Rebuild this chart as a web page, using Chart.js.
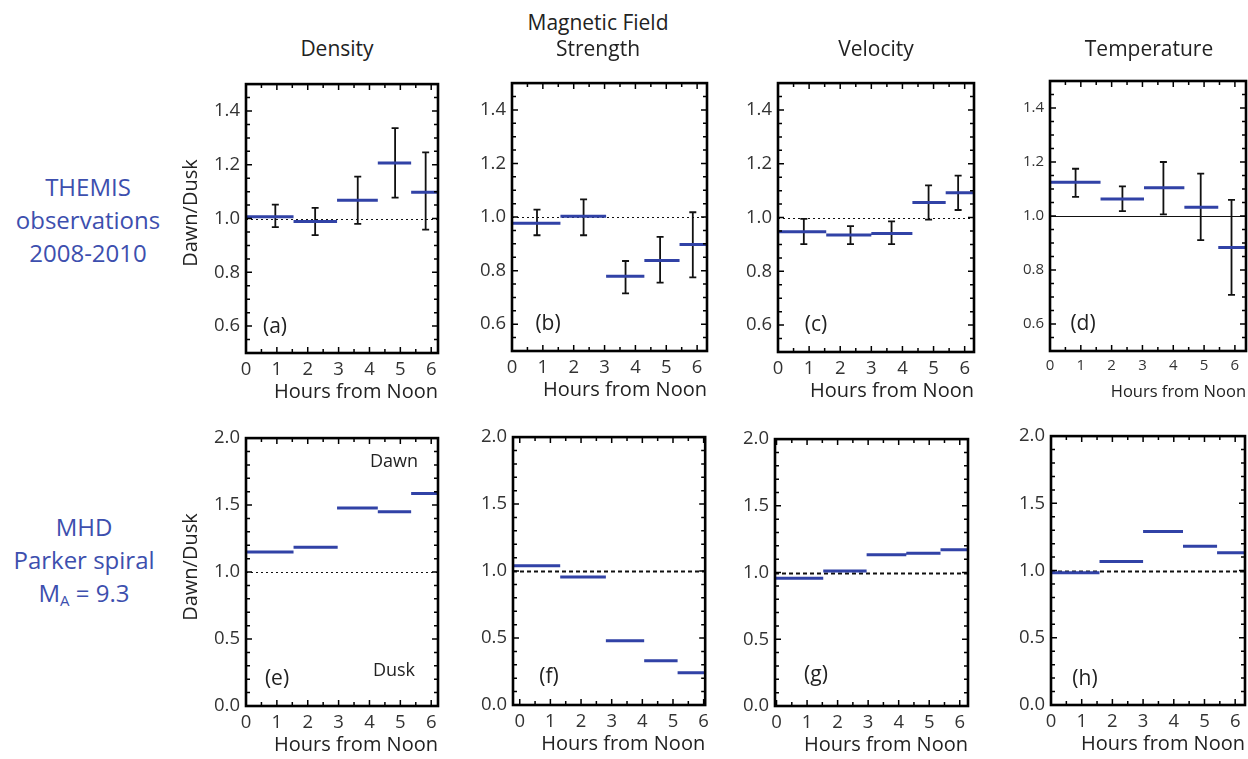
<!DOCTYPE html>
<html><head><meta charset="utf-8">
<script src="https://cdn.jsdelivr.net/npm/chart.js@4.4.1/dist/chart.umd.min.js"></script>
<style>
html,body{margin:0;padding:0;overflow:hidden;background:#fff}
body{width:1248px;height:759px;position:relative;font-family:"Open Sans",sans-serif}
canvas{position:absolute}
.t{position:absolute;white-space:nowrap;transform:translate(-50%,-50%);color:#222;line-height:1}
.row{position:absolute;white-space:nowrap;transform:translate(-50%,0);color:#3d4fae;font-size:24px;line-height:33px;text-align:center}
.yt{position:absolute;white-space:nowrap;transform:translate(-50%,-50%) rotate(-90deg);color:#222;font-size:20px;line-height:1}
</style></head><body>
<script>
// ---------- shared tick labels ----------
const xTickLabels = [0, 1, 2, 3, 4, 5, 6];
const yTicksTop = [0.6, 0.8, 1.0, 1.2, 1.4];
const yTicksBottom = [0.0, 0.5, 1.0, 1.5, 2.0];
const refValue = 1.0;

// ---------- THEMIS observations (top row) ----------
// (a) Density
const aLo = [0, 1.54, 2.95, 4.27, 5.35];
const aHi = [1.54, 2.95, 4.27, 5.35, 6.22];
const aVal = [1.007, 0.989, 1.068, 1.207, 1.098];
const aErrX = [0.95, 2.24, 3.62, 4.83, 5.82];
const aErrLo = [0.968, 0.938, 0.980, 1.078, 0.959];
const aErrHi = [1.052, 1.040, 1.156, 1.336, 1.246];
// (b) Magnetic field strength
const bLo = [0, 1.57, 3.05, 4.29, 5.43];
const bHi = [1.57, 3.05, 4.29, 5.43, 6.32];
const bVal = [0.977, 1.003, 0.779, 0.838, 0.898];
const bErrX = [0.81, 2.32, 3.68, 4.80, 5.86];
const bErrLo = [0.932, 0.932, 0.715, 0.755, 0.775];
const bErrHi = [1.028, 1.066, 0.836, 0.926, 1.018];
// (c) Velocity
const cLo = [0, 1.55, 3.00, 4.32, 5.39];
const cHi = [1.55, 3.00, 4.32, 5.39, 6.30];
const cVal = [0.947, 0.935, 0.941, 1.056, 1.092];
const cErrX = [0.83, 2.33, 3.65, 4.84, 5.79];
const cErrLo = [0.901, 0.901, 0.901, 0.992, 1.028];
const cErrHi = [0.995, 0.968, 0.986, 1.120, 1.156];
// (d) Temperature
const dLo = [0, 1.64, 3.05, 4.36, 5.46];
const dHi = [1.64, 3.05, 4.36, 5.46, 6.36];
const dVal = [1.125, 1.063, 1.105, 1.032, 0.883];
const dErrX = [0.83, 2.35, 3.68, 4.89, 5.89];
const dErrLo = [1.071, 1.018, 1.006, 0.911, 0.708];
const dErrHi = [1.175, 1.110, 1.200, 1.157, 1.060];

// ---------- MHD Parker spiral (bottom row) ----------
const eLo = [0, 1.54, 2.95, 4.27, 5.35];
const eHi = [1.54, 2.97, 4.27, 5.35, 6.22];
const eVal = [1.150, 1.186, 1.478, 1.450, 1.587];
const fLo = [-0.22, 1.32, 2.81, 4.06, 5.15];
const fHi = [1.32, 2.81, 4.06, 5.15, 6.05];
const fVal = [1.040, 0.956, 0.480, 0.330, 0.240];
const gLo = [-0.05, 1.53, 2.95, 4.25, 5.37];
const gHi = [1.53, 2.95, 4.25, 5.37, 6.27];
const gVal = [0.958, 1.012, 1.133, 1.145, 1.170];
const hLo = [0, 1.58, 3.00, 4.30, 5.41];
const hHi = [1.58, 3.00, 4.30, 5.41, 6.32];
const hVal = [0.983, 1.067, 1.290, 1.180, 1.133];

const BLUE = '#3142a6';
const FONT = "'Open Sans', sans-serif";

const panels = [
  {id:'a', lo:aLo, hi:aHi, val:aVal, ex:aErrX, el:aErrLo, eh:aErrHi, xMin:0, xMax:6.22, yMin:0.5, yMax:1.5, yt:yTicksTop, yMinor:0.05, box:{L:246,T:75,R:438,B:353}, ref:{dash:[2,3],w:1.2}, fs:18.5, tfs:20},
  {id:'b', lo:bLo, hi:bHi, val:bVal, ex:bErrX, el:bErrLo, eh:bErrHi, xMin:0, xMax:6.32, yMin:0.5, yMax:1.5, yt:yTicksTop, yMinor:0.05, box:{L:512,T:74,R:707,B:351}, ref:{dash:[2,3],w:1.2}, fs:18.5, tfs:20},
  {id:'c', lo:cLo, hi:cHi, val:cVal, ex:cErrX, el:cErrLo, eh:cErrHi, xMin:0, xMax:6.30, yMin:0.5, yMax:1.5, yt:yTicksTop, yMinor:0.05, box:{L:778,T:74,R:974,B:352}, ref:{dash:[2,3],w:1.2}, fs:18.5, tfs:20},
  {id:'d', lo:dLo, hi:dHi, val:dVal, ex:dErrX, el:dErrLo, eh:dErrHi, xMin:0, xMax:6.36, yMin:0.5, yMax:1.5, yt:yTicksTop, yMinor:0.05, box:{L:1050,T:74,R:1246,B:351}, ref:{dash:[],w:1}, fs:15, tfs:16.5},
  {id:'e', lo:eLo, hi:eHi, val:eVal, xMin:0, xMax:6.22, yMin:0, yMax:2.0, yt:yTicksBottom, yMinor:0.1, box:{L:246,T:429,R:438,B:706}, ref:{dash:[2,3],w:1.2}, fs:18.5, tfs:20},
  {id:'f', lo:fLo, hi:fHi, val:fVal, xMin:-0.22, xMax:6.05, yMin:0, yMax:2.0, yt:yTicksBottom, yMinor:0.1, box:{L:513,T:428,R:707,B:705}, ref:{dash:[4,3],w:2}, fs:18.5, tfs:20},
  {id:'g', lo:gLo, hi:gHi, val:gVal, xMin:-0.05, xMax:6.27, yMin:0, yMax:2.0, yt:yTicksBottom, yMinor:0.1, box:{L:775,T:430,R:968,B:706}, ref:{dash:[4,3],w:2}, fs:18.5, tfs:20},
  {id:'h', lo:hLo, hi:hHi, val:hVal, xMin:0, xMax:6.32, yMin:0, yMax:2.0, yt:yTicksBottom, yMinor:0.1, box:{L:1051,T:427,R:1245,B:705}, ref:{dash:[4,3],w:2}, fs:18.5, tfs:20}
];

function framePlugin(p){
  return {
    id:'frame_'+p.id,
    beforeDatasetsDraw(chart){
      const {ctx, chartArea:a, scales:{x, y}} = chart;
      ctx.save();
      ctx.beginPath(); ctx.rect(a.left, a.top, a.right-a.left, a.bottom-a.top); ctx.clip();
      const yr = Math.round(y.getPixelForValue(refValue)) + 0.5;
      ctx.setLineDash(p.ref.dash); ctx.lineWidth = p.ref.w; ctx.strokeStyle = '#111';
      ctx.beginPath(); ctx.moveTo(a.left, yr); ctx.lineTo(a.right, yr); ctx.stroke();
      ctx.setLineDash([]);
      if (p.ex) {
        ctx.strokeStyle = '#111'; ctx.lineWidth = 1.8;
        p.ex.forEach((xv, i) => {
          const px = x.getPixelForValue(xv);
          const y1 = y.getPixelForValue(p.el[i]), y2 = y.getPixelForValue(p.eh[i]);
          ctx.beginPath();
          ctx.moveTo(px, y1); ctx.lineTo(px, y2);
          ctx.moveTo(px-3.5, y1); ctx.lineTo(px+3.5, y1);
          ctx.moveTo(px-3.5, y2); ctx.lineTo(px+3.5, y2);
          ctx.stroke();
        });
      }
      ctx.restore();
    },
    afterDraw(chart){
      const {ctx, chartArea:a, scales:{x, y}} = chart;
      ctx.save();
      ctx.strokeStyle = '#000'; ctx.lineWidth = 1.5;
      ctx.beginPath();
      const xs = [];
      for (let v = Math.ceil(x.min*2)/2; v <= x.max + 1e-9; v += 0.5) xs.push(v);
      xs.forEach(v => {
        const px = x.getPixelForValue(v);
        const len = Number.isInteger(v) ? 6 : 4;
        ctx.moveTo(px, a.bottom); ctx.lineTo(px, a.bottom - len);
        ctx.moveTo(px, a.top); ctx.lineTo(px, a.top + len);
      });
      const n = Math.round((y.max - y.min) / p.yMinor);
      for (let k = 0; k <= n; k++) {
        const v = y.min + k * p.yMinor;
        const py = y.getPixelForValue(v);
        const major = p.yt.some(t => Math.abs(t - v) < 1e-6);
        const len = major ? 6 : 4;
        ctx.moveTo(a.left, py); ctx.lineTo(a.left + len, py);
        ctx.moveTo(a.right, py); ctx.lineTo(a.right - len, py);
      }
      ctx.stroke();
      ctx.lineWidth = 2.6;
      ctx.strokeRect(a.left, a.top, a.right - a.left, a.bottom - a.top);
      ctx.restore();
    }
  };
}

function makePanel(p){
  const YW = 70, PT = 8, PR = 8, XH = 51;
  const cv = document.createElement('canvas');
  const w = (p.box.R - p.box.L) + YW + PR, h = (p.box.B - p.box.T) + PT + XH;
  cv.width = w; cv.height = h;
  cv.style.left = (p.box.L - YW) + 'px'; cv.style.top = (p.box.T - PT) + 'px';
  cv.style.width = w + 'px'; cv.style.height = h + 'px';
  document.body.appendChild(cv);
  const seg = [];
  p.lo.forEach((lo, i) => { seg.push({x:lo, y:p.val[i]}, {x:p.hi[i], y:p.val[i]}, {x:p.hi[i], y:null}); });
  new Chart(cv, {
    type:'line',
    data:{datasets:[{data:seg, borderColor:BLUE, borderWidth:3, pointRadius:0, spanGaps:false, tension:0, borderCapStyle:'butt', fill:false}]},
    options:{
      responsive:false, animation:false, devicePixelRatio:1,
      layout:{padding:{left:0, top:PT, right:PR, bottom:0}},
      plugins:{legend:{display:false}, tooltip:{enabled:false}},
      scales:{
        x:{type:'linear', min:p.xMin, max:p.xMax,
          grid:{display:false, drawTicks:false}, border:{display:false},
          afterBuildTicks:s => { s.ticks = xTickLabels.map(v => ({value:v})); },
          afterFit:s => { s.height = XH; },
          ticks:{autoSkip:false, maxRotation:0, color:'#333', padding:6, font:{family:FONT, size:p.fs}, callback:v => String(v)},
          title:{display:true, text:'Hours from Noon', align:'end', color:'#222', padding:{top:0, bottom:0}, font:{family:FONT, size:p.tfs}}
        },
        y:{type:'linear', min:p.yMin, max:p.yMax,
          grid:{display:false, drawTicks:false}, border:{display:false},
          afterBuildTicks:s => { s.ticks = p.yt.map(v => ({value:v})); },
          afterFit:s => { s.width = YW; },
          ticks:{color:'#333', padding:6, font:{family:FONT, size:p.fs}, callback:v => Number(v).toFixed(1)}
        }
      }
    },
    plugins:[framePlugin(p)]
  });
}
panels.forEach(makePanel);

function addText(cls, html, x, y, style){
  const d = document.createElement('div');
  d.className = cls; d.innerHTML = html;
  d.style.left = x + 'px'; d.style.top = y + 'px';
  if (style) Object.assign(d.style, style);
  document.body.appendChild(d);
}
// column titles
addText('t', 'Density', 337, 48, {fontSize:'21px'});
addText('t', 'Magnetic Field', 598, 22, {fontSize:'21px'});
addText('t', 'Strength', 598, 48, {fontSize:'21px'});
addText('t', 'Velocity', 876, 48, {fontSize:'21px'});
addText('t', 'Temperature', 1149, 48, {fontSize:'21px'});
// row labels
addText('row', 'THEMIS<br>observations<br>2008-2010', 88, 170);
addText('row', 'MHD<br>Parker spiral<br>M<sub style="font-size:15px;vertical-align:-4px;line-height:0">A</sub> = 9.3', 84, 510);
// y axis titles
addText('yt', 'Dawn/Dusk', 190, 213);
addText('yt', 'Dawn/Dusk', 190, 567);
// panel labels
const pl = [['(a)',275,325],['(b)',548,322],['(c)',816,323],['(d)',1083,322],['(e)',277,677],['(f)',549,675],['(g)',816,673],['(h)',1085,677]];
pl.forEach(q => addText('t', q[0], q[1], q[2], {fontSize:'21px'}));
addText('t', 'Dawn', 394, 460, {fontSize:'18px'});
addText('t', 'Dusk', 394, 669, {fontSize:'18px'});
</script>
</body></html>
